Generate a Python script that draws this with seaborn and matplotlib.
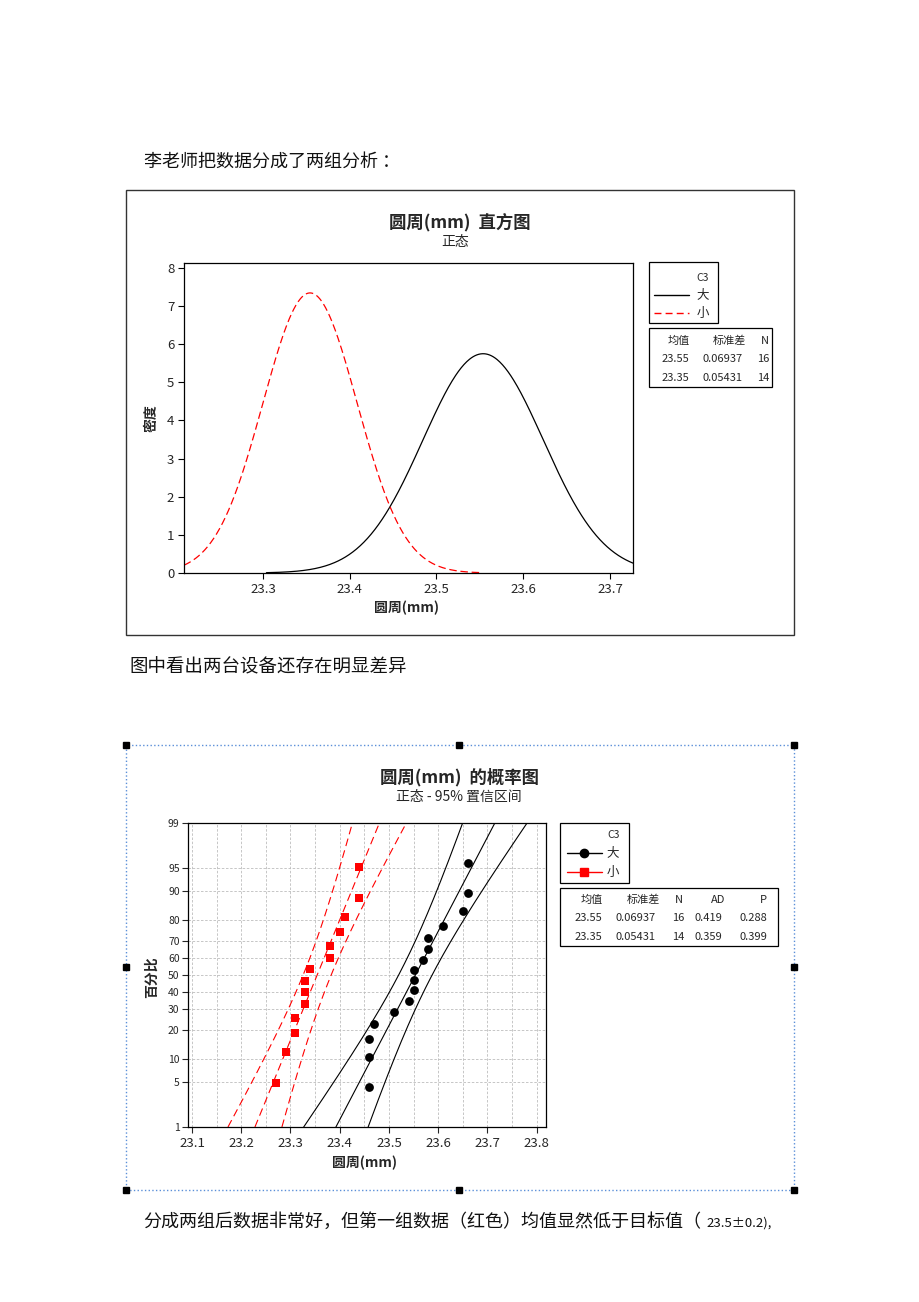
import numpy as np
import pandas as pd
import matplotlib
matplotlib.use("Agg")
import matplotlib.pyplot as plt
import seaborn as sns
from matplotlib.patches import Rectangle
from matplotlib.lines import Line2D
from statistics import NormalDist

# ---- data ----
groups = ["大", "小"]
means = [23.55, 23.35]
stdevs = [0.06937, 0.05431]
counts = [16, 14]
ad_stats = [0.419, 0.359]
p_values = [0.288, 0.399]

big_values = [23.46, 23.46, 23.46, 23.47, 23.51, 23.54, 23.55, 23.55,
              23.55, 23.57, 23.58, 23.58, 23.61, 23.65, 23.66, 23.66]
small_values = [23.27, 23.29, 23.31, 23.31, 23.33, 23.33, 23.33,
                23.34, 23.38, 23.38, 23.40, 23.41, 23.44, 23.44]

density_ticks = [0, 1, 2, 3, 4, 5, 6, 7, 8]
hist_xticks = [23.3, 23.4, 23.5, 23.6, 23.7]
prob_xticks = [23.1, 23.2, 23.3, 23.4, 23.5, 23.6, 23.7, 23.8]
prob_grid = [23.15, 23.25, 23.35, 23.45, 23.55, 23.65, 23.75]
pct_ticks = [1, 5, 10, 20, 30, 40, 50, 60, 70, 80, 90, 95, 99]

colors = ["black", "red"]
samples = [big_values, small_values]
# unrounded means of the raw points (table shows them rounded)
fit_means = [float(np.mean(v)) for v in samples]

sns.set_theme(style="white")
plt.rcParams['font.family'] = ['Noto Sans CJK SC', 'DejaVu Sans']
plt.rcParams['axes.unicode_minus'] = False

W, H = 920, 1302


def fx(px):
    return px / W


def fy(py):
    return 1 - py / H


def axrect(l, t, r, b):
    return [fx(l), fy(b), (r - l) / W, (b - t) / H]


def ftext(x, y, s, **kw):
    kw.setdefault("va", "center")
    kw.setdefault("ha", "center")
    fig.text(fx(x), fy(y), s, **kw)


def box(l, t, r, b, **kw):
    fig.add_artist(Rectangle((fx(l), fy(b)), (r - l) / W, (b - t) / H,
                             transform=fig.transFigure, fill=False, **kw))


def fline(x0, x1, y, **kw):
    fig.add_artist(Line2D([fx(x0), fx(x1)], [fy(y), fy(y)],
                          transform=fig.transFigure, **kw))


fig = plt.figure(figsize=(9.2, 13.02), dpi=100)

# ---- page text ----
ftext(144, 162, "李老师把数据分成了两组分析 ：", ha="left", fontsize=13, color="#111111")
ftext(129, 667, "图中看出两台设备还存在明显差异", ha="left", fontsize=13.3, color="#111111")
ftext(143, 1222, "分成两组后数据非常好，但第一组数据（红色）均值显然低于目标值（",
      ha="left", fontsize=13, color="#111111")
ftext(706, 1223, "23.5±0.2),", ha="left", fontsize=9.5, color="#111111")

# ---- chart 1: density curves ----
box(126, 190, 794, 635, edgecolor="#333333", linewidth=1)
ax1 = fig.add_axes(axrect(184, 263, 633, 573))
x_lo, x_hi = 23.209, 23.7265
for g, m, s, c in zip(groups, fit_means, stdevs, colors):
    nd = NormalDist(m, s)
    xs = np.linspace(max(x_lo, m - 3.6 * s), min(x_hi, m + 3.6 * s), 400)
    df = pd.DataFrame({"x": xs, "density": [nd.pdf(v) for v in xs]})
    ls = "-" if c == "black" else (0, (6, 3))
    sns.lineplot(data=df, x="x", y="density", ax=ax1, color=c, linewidth=0.9,
                 linestyle=ls, estimator=None, sort=False, legend=False)
ax1.set_xlim(x_lo, x_hi)
ax1.set_ylim(0, 8.13)
ax1.set_xticks(hist_xticks)
ax1.set_xticklabels([f"{v:.1f}" for v in hist_xticks])
ax1.set_yticks(density_ticks)
ax1.set_xlabel("")
ax1.set_ylabel("")
ax1.tick_params(axis="both", direction="out", length=4, width=0.8, color="black",
                labelsize=9.5, pad=3, bottom=True, left=True)
for sp in ax1.spines.values():
    sp.set_color("black")
    sp.set_linewidth(0.9)

ftext(460, 222, "圆周(mm)  直方图", fontsize=12.5, fontweight="bold")
ftext(455, 242, "正态", fontsize=10)
ftext(407, 608, "圆周(mm)", fontsize=10, fontweight="bold")
ftext(152, 418, "密度", fontsize=10, fontweight="bold", rotation=90)

# legend 1
box(649, 262, 718, 323, edgecolor="black", linewidth=0.9)
ftext(703, 278, "C3", fontsize=7.5)
for i, (g, c) in enumerate(zip(groups, colors)):
    y = 295 + i * 18
    ls = "-" if c == "black" else (0, (5, 3))
    fline(654, 689, y, color=c, linewidth=1, linestyle=ls)
    ftext(703, y, g, fontsize=9)
box(649, 328, 772, 387, edgecolor="black", linewidth=0.9)
for x, h in zip([679, 729, 765], ["均值", "标准差", "N"]):
    ftext(x, 341, h, fontsize=8)
for i in range(2):
    y = 359 + i * 19
    ftext(675, y, f"{means[i]:.2f}", fontsize=8)
    ftext(723, y, f"{stdevs[i]:.5f}", fontsize=8)
    ftext(763, y, f"{counts[i]}", fontsize=8)

# ---- chart 2: normal probability plot ----
box(126, 745, 794, 1190, edgecolor="#5b8fd8", linewidth=1, linestyle=":")
for hx, hy in [(126, 745), (459, 745), (794, 745), (126, 967), (794, 967),
               (126, 1190), (459, 1190), (794, 1190)]:
    fig.add_artist(Rectangle((fx(hx - 3), fy(hy + 3)), 6 / W, 6 / H,
                             transform=fig.transFigure, color="black"))

ax2 = fig.add_axes(axrect(188, 823, 546, 1127))
std = NormalDist()
z_lo, z_hi = std.inv_cdf(0.01), std.inv_cdf(0.99)
zz = np.linspace(z_lo, z_hi, 200)
for vals, m, s, n, c in zip(samples, fit_means, stdevs, counts, colors):
    pos = [(i + 1 - 0.3) / (n + 0.4) for i in range(len(vals))]
    pts = pd.DataFrame({"x": sorted(vals), "z": [std.inv_cdf(p) for p in pos]})
    center = m + s * zz
    half = 1.96 * s * np.sqrt(1 / n + zz ** 2 / (2 * n))
    ls = "-" if c == "black" else (0, (7, 4))
    for line in [center - half, center, center + half]:
        df = pd.DataFrame({"x": line, "z": zz})
        sns.lineplot(data=df, x="x", y="z", ax=ax2, color=c, linewidth=0.8,
                     linestyle=ls, estimator=None, sort=False, legend=False)
    marker = "o" if c == "black" else "s"
    sns.scatterplot(data=pts, x="x", y="z", ax=ax2, color=c, marker=marker,
                    s=40, edgecolor=c, linewidth=0, zorder=5, legend=False)

ax2.set_xlim(23.092, 23.819)
ax2.set_ylim(z_lo, z_hi)
ax2.set_xticks(prob_xticks)
ax2.set_xticklabels([f"{v:.1f}" for v in prob_xticks])
ax2.set_xticks(prob_grid, minor=True)
ax2.set_yticks([std.inv_cdf(p / 100) for p in pct_ticks])
ax2.set_yticklabels([str(p) for p in pct_ticks])
ax2.set_xlabel("")
ax2.set_ylabel("")
ax2.grid(which="both", axis="x", color="#bdbdbd", linestyle=(0, (3, 2)), linewidth=0.6)
ax2.grid(which="major", axis="y", color="#bdbdbd", linestyle=(0, (3, 2)), linewidth=0.6)
ax2.set_axisbelow(True)
ax2.tick_params(axis="x", which="major", direction="out", length=4, width=0.8,
                labelsize=9.5, pad=3, bottom=True)
ax2.tick_params(axis="x", which="minor", length=0)
ax2.tick_params(axis="y", direction="out", length=4, width=0.8, labelsize=7.5,
                pad=2, left=True)
for sp in ax2.spines.values():
    sp.set_color("black")
    sp.set_linewidth(0.9)

ftext(460, 777, "圆周(mm)  的概率图", fontsize=12.5, fontweight="bold")
ftext(459, 797, "正态 - 95% 置信区间", fontsize=10)
ftext(365, 1163, "圆周(mm)", fontsize=10, fontweight="bold")
ftext(152, 977, "百分比", fontsize=10, fontweight="bold", rotation=90)

# legend 2
box(560, 823, 629, 883, edgecolor="black", linewidth=0.9)
ftext(614, 835, "C3", fontsize=7.5)
for i, (g, c) in enumerate(zip(groups, colors)):
    y = 853 + i * 19
    fline(567, 602, y, color=c, linewidth=1)
    mk = "o" if c == "black" else "s"
    fig.add_artist(Line2D([fx(584)], [fy(y)], transform=fig.transFigure,
                          marker=mk, markersize=6, color=c, linestyle="none"))
    ftext(613, y, g, fontsize=9)
box(560, 888, 778, 946, edgecolor="black", linewidth=0.9)
for x, h in zip([592, 643, 679, 718, 763], ["均值", "标准差", "N", "AD", "P"]):
    ftext(x, 900, h, fontsize=8)
for i in range(2):
    y = 918 + i * 19
    ftext(588, y, f"{means[i]:.2f}", fontsize=8)
    ftext(636, y, f"{stdevs[i]:.5f}", fontsize=8)
    ftext(678, y, f"{counts[i]}", fontsize=8)
    ftext(708, y, f"{ad_stats[i]:.3f}", fontsize=8)
    ftext(753, y, f"{p_values[i]:.3f}", fontsize=8)

fig.savefig("out.png", dpi=100, facecolor="white")
